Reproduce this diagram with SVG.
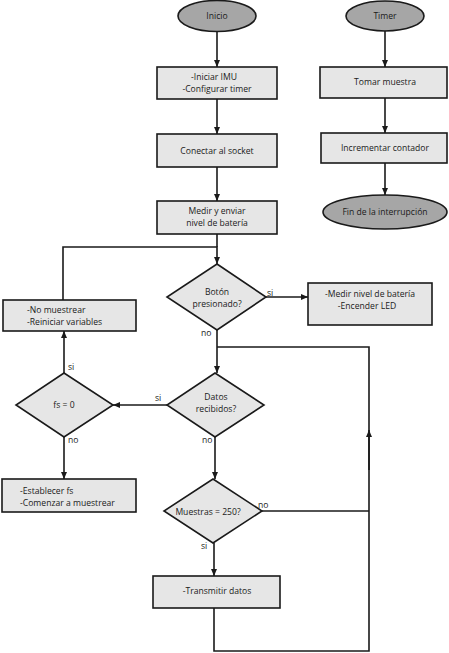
<svg xmlns="http://www.w3.org/2000/svg" width="449" height="653" viewBox="0 0 449 653">
<style>
.term{fill:#a6a6a6;stroke:#1a1a1a;stroke-width:1.6}
.box{fill:#e6e6e6;stroke:#1a1a1a;stroke-width:1.6}
.dec{fill:#e6e6e6;stroke:#1a1a1a;stroke-width:1.6}
.ln{fill:none;stroke:#1a1a1a;stroke-width:1.6}
text{font-family:"Open Sans","Noto Sans","Liberation Sans",sans-serif;font-size:8.6px;fill:#1a1a1a}
.c{text-anchor:middle}
</style>
<defs>
<marker id="ah" markerWidth="8" markerHeight="8" refX="7" refY="4" orient="auto" markerUnits="userSpaceOnUse">
<path d="M0,1 L7,4 L0,7 Z" fill="#1a1a1a"/>
</marker>
</defs>
<rect width="449" height="653" fill="#ffffff"/>
<g id="connectors">
<line class="ln" x1="217" y1="32" x2="217" y2="67" marker-end="url(#ah)"/>
<line class="ln" x1="217" y1="99" x2="217" y2="134" marker-end="url(#ah)"/>
<line class="ln" x1="217" y1="167" x2="217" y2="201" marker-end="url(#ah)"/>
<line class="ln" x1="217" y1="234" x2="217" y2="247"/>
<polyline class="ln" points="63,300 63,247 217,247 217,264" marker-end="url(#ah)"/>
<line class="ln" x1="266" y1="297" x2="308" y2="297" marker-end="url(#ah)"/>
<line class="ln" x1="217" y1="330" x2="217" y2="373" marker-end="url(#ah)"/>
<polyline class="ln" points="217,347 369,347 369,651 214,651 214,608"/>
<line class="ln" x1="369" y1="470" x2="369" y2="430" marker-end="url(#ah)"/>
<line class="ln" x1="167" y1="405" x2="113" y2="405" marker-end="url(#ah)"/>
<line class="ln" x1="64" y1="373" x2="64" y2="331" marker-end="url(#ah)"/>
<line class="ln" x1="64" y1="437" x2="64" y2="479" marker-end="url(#ah)"/>
<line class="ln" x1="215" y1="437" x2="215" y2="479" marker-end="url(#ah)"/>
<line class="ln" x1="262" y1="511" x2="369" y2="511"/>
<line class="ln" x1="214" y1="543" x2="214" y2="576" marker-end="url(#ah)"/>
<line class="ln" x1="385" y1="31" x2="385" y2="67" marker-end="url(#ah)"/>
<line class="ln" x1="385" y1="98" x2="385" y2="133" marker-end="url(#ah)"/>
<line class="ln" x1="385" y1="163" x2="385" y2="195" marker-end="url(#ah)"/>
<text x="267" y="296">si</text>
<text x="201" y="336">no</text>
<text x="155" y="401">si</text>
<text x="202" y="443">no</text>
<text x="68" y="370">si</text>
<text x="68" y="443">no</text>
<text x="258" y="508">no</text>
<text x="201" y="549">si</text>
</g>
<g id="inicio">
<ellipse class="term" cx="217" cy="16" rx="39" ry="15.5"/>
<text class="c" x="217" y="19">Inicio</text>
</g>
<g id="iniciar">
<rect class="box" x="157" y="67" width="120" height="32"/>
<text class="c" x="214" y="80">-Iniciar IMU</text>
<text class="c" x="217" y="92">-Configurar timer</text>
</g>
<g id="conectar">
<rect class="box" x="157" y="134" width="120" height="33"/>
<text class="c" x="217" y="154">Conectar al socket</text>
</g>
<g id="medir">
<rect class="box" x="157" y="201" width="120" height="33"/>
<text class="c" x="217" y="214">Medir y enviar</text>
<text class="c" x="217" y="226">nivel de batería</text>
</g>
<g id="boton">
<polygon class="dec" points="217,264 266,297 217,330 167,297"/>
<text class="c" x="217" y="295">Botón</text>
<text class="c" x="217" y="307">presionado?</text>
</g>
<g id="medirnivel">
<rect class="box" x="308" y="283" width="124" height="42"/>
<text class="c" x="370" y="297">-Medir nivel de batería</text>
<text class="c" x="367" y="309">-Encender LED</text>
</g>
<g id="nomuestrear">
<rect class="box" x="3" y="300" width="133" height="31"/>
<text x="27" y="313">-No muestrear</text>
<text x="27" y="325">-Reiniciar variables</text>
</g>
<g id="datos">
<polygon class="dec" points="215,373 264,405 215,437 167,405"/>
<text class="c" x="216" y="400">Datos</text>
<text class="c" x="216" y="412">recibidos?</text>
</g>
<g id="fs">
<polygon class="dec" points="64,373 113,405 64,437 16,405"/>
<text class="c" x="64" y="408">fs = 0</text>
</g>
<g id="establecer">
<rect class="box" x="2" y="479" width="134" height="33"/>
<text x="20" y="494">-Establecer fs</text>
<text x="20" y="506">-Comenzar a muestrear</text>
</g>
<g id="muestras">
<polygon class="dec" points="213,479 262,511 213,543 164,511"/>
<text class="c" x="208" y="515">Muestras = 250?</text>
</g>
<g id="transmitir">
<rect class="box" x="153" y="576" width="127" height="32"/>
<text class="c" x="217" y="594">-Transmitir datos</text>
</g>
<g id="timer">
<ellipse class="term" cx="385" cy="16" rx="39" ry="15"/>
<text class="c" x="385" y="19">Timer</text>
</g>
<g id="tomar">
<rect class="box" x="320" y="67" width="127" height="31"/>
<text class="c" x="385" y="85">Tomar muestra</text>
</g>
<g id="incrementar">
<rect class="box" x="321" y="133" width="126" height="30"/>
<text class="c" x="385" y="151">Incrementar contador</text>
</g>
<g id="fin">
<ellipse class="term" cx="385" cy="212" rx="62" ry="17"/>
<text class="c" x="385" y="215">Fin de la interrupción</text>
</g>
</svg>
